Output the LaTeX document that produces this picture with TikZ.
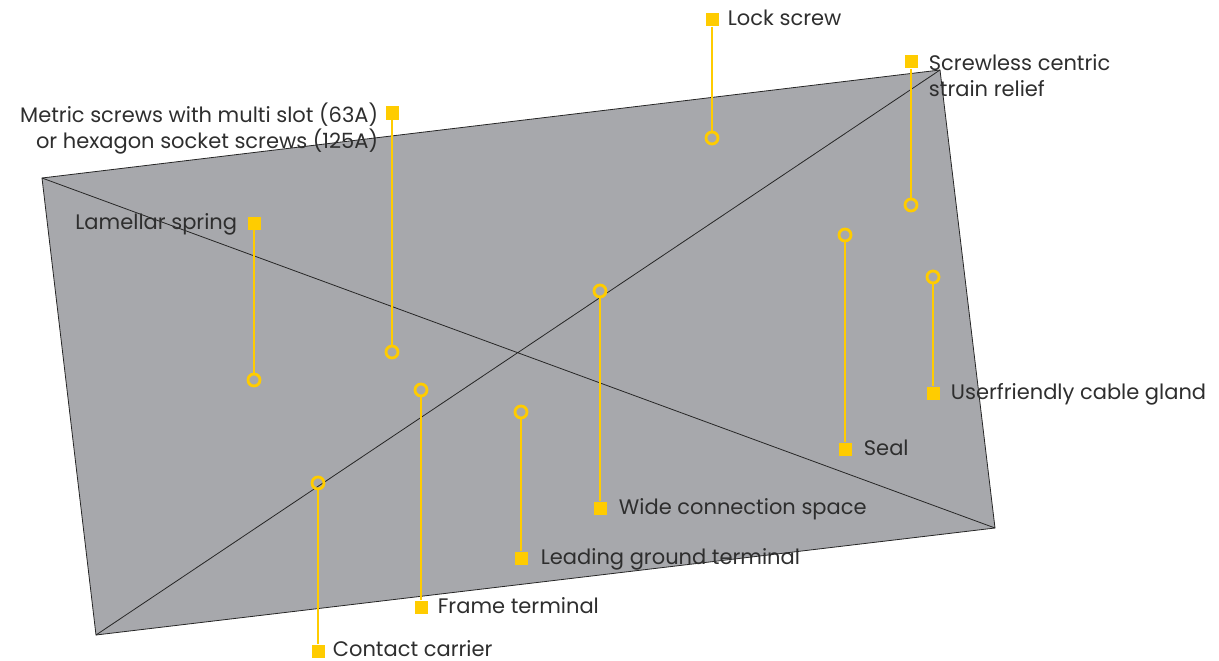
\documentclass[tikz,border=0pt]{standalone}
\usepackage{fontspec}
\setmainfont{Poppins}
\usepackage{tikz}
\usetikzlibrary{positioning}

\definecolor{calloutyellow}{HTML}{FFCC00}
\definecolor{housinggrey}{HTML}{A7A8AC}
\definecolor{labeltext}{HTML}{2E2E2E}

\begin{document}
\begin{tikzpicture}[x=1pt, y=-1pt, font=\fontsize{21}{26}\selectfont,
    pin/.style={fill=calloutyellow, minimum size=13pt, inner sep=0pt},
    spot/.style={circle, draw=calloutyellow, line width=2.8pt, minimum size=12pt, inner sep=0pt},
    lead/.style={calloutyellow, line width=2pt},
    lbl/.style={text=labeltext, inner sep=0pt}]
    \useasboundingbox (0,0) rectangle (1219,661);
    % Housing with crossed diagonals
    \coordinate (tl) at (42,178);
    \coordinate (tr) at (940,70);
    \coordinate (br) at (995,528);
    \coordinate (bl) at (96,635);
    \draw[fill=housinggrey, draw=black!85, line width=0.8pt] (tl) -- (tr) -- (br) -- (bl) -- cycle;
    \draw[black!85, line width=0.8pt] (tl) -- (br) (bl) -- (tr);
    % Points on the housing
    \node[spot] (lockPt) at (712,138) {};
    \node[spot] (strainPt) at (911,205) {};
    \node[spot] (metricPt) at (392,352) {};
    \node[spot] (springPt) at (254,380) {};
    \node[spot] (widePt) at (600,291) {};
    \node[spot] (sealPt) at (845,235) {};
    \node[spot] (glandPt) at (933,277) {};
    \node[spot] (groundPt) at (521,412) {};
    \node[spot] (framePt) at (421,390) {};
    \node[spot] (carrierPt) at (318,483) {};
    % Label markers
    \node[pin] (lockSq) at (712,20) {};
    \node[pin] (strainSq) at (911,62) {};
    \node[pin] (metricSq) at (392,113) {};
    \node[pin] (springSq) at (254,223) {};
    \node[pin] (wideSq) at (600,508) {};
    \node[pin] (sealSq) at (845,449) {};
    \node[pin] (glandSq) at (933,393) {};
    \node[pin] (groundSq) at (521,558) {};
    \node[pin] (frameSq) at (421,607) {};
    \node[pin] (carrierSq) at (318,651) {};
    % Leads
    \foreach \part in {lock, strain, metric, spring, wide, seal, gland, ground, frame, carrier}
        \draw[lead] (\part Sq) -- (\part Pt);
    % Labels (two-line ones sit on their last baseline)
    \node[lbl, anchor=base west] (lockTxt) at ([xshift=9pt, yshift=-6pt]lockSq.east) {Lock screw};
    \node[lbl, anchor=base west, align=left] (strainTxt) at ([xshift=11pt, yshift=-34pt]strainSq.east) {Screwless centric\\strain relief};
    \node[lbl, anchor=base east, align=right] (metricTxt) at ([xshift=-7pt, yshift=-35pt]metricSq.west) {Metric screws with multi slot (63A)\\or hexagon socket screws (125A)};
    \node[lbl, anchor=base east] (springTxt) at ([xshift=-10pt, yshift=-6pt]springSq.west) {Lamellar spring};
    \node[lbl, anchor=base west] (wideTxt) at ([xshift=12pt, yshift=-6pt]wideSq.east) {Wide connection space};
    \node[lbl, anchor=base west] (sealTxt) at ([xshift=12pt, yshift=-6pt]sealSq.east) {Seal};
    \node[lbl, anchor=base west] (glandTxt) at ([xshift=11pt, yshift=-6pt]glandSq.east) {Userfriendly cable gland};
    \node[lbl, anchor=base west] (groundTxt) at ([xshift=13pt, yshift=-6pt]groundSq.east) {Leading ground terminal};
    \node[lbl, anchor=base west] (frameTxt) at ([xshift=10pt, yshift=-6pt]frameSq.east) {Frame terminal};
    \node[lbl, anchor=base west] (carrierTxt) at ([xshift=8pt, yshift=-5pt]carrierSq.east) {Contact carrier};
\end{tikzpicture}
\end{document}
